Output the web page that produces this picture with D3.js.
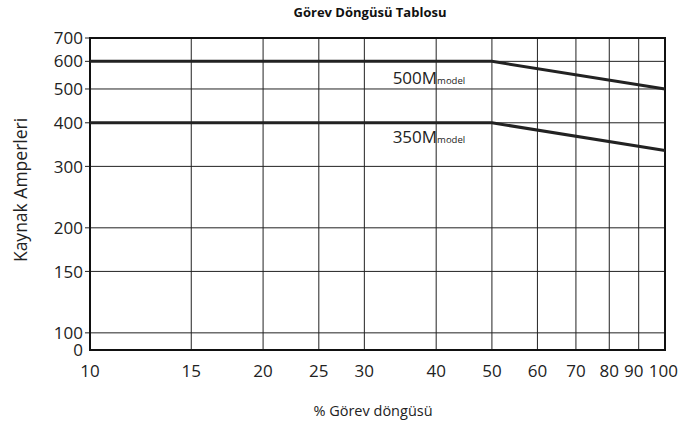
<!DOCTYPE html>
<html>
<head>
<meta charset="utf-8">
<script src="https://cdn.jsdelivr.net/npm/d3@7"></script>
<style>
  body { margin: 0; background: #fff; }
  text { font-family: "Open Sans", "Noto Sans", sans-serif; fill: #222; }
</style>
</head>
<body>
<div id="chart"></div>
<script>
// duty cycle (%) vs welding amps
var dutyCycle = [10, 50, 100];
var amps500 = [600, 600, 500];
var amps350 = [400, 400, 333];

var xTicks = [10, 15, 20, 25, 30, 40, 50, 60, 70, 80, 90, 100];
var yTicks = [0, 100, 150, 200, 300, 400, 500, 600, 700];

var seriesNames = ["500M", "350M"];
var seriesSub = ["model", "model"];
var labelX = [33.6, 33.6];
var labelY = [516, 350];

var title = "Görev Döngüsü Tablosu";
var xTitle = "% Görev döngüsü";
var yTitle = "Kaynak Amperleri";

var W = 678, H = 425;
var margin = {top: 38, right: 13, bottom: 75, left: 90},
    width = W - margin.left - margin.right,
    height = H - margin.top - margin.bottom;

var svg = d3.select("#chart").append("svg")
    .attr("width", W)
    .attr("height", H);

var g = svg.append("g")
    .attr("transform", "translate(" + margin.left + "," + margin.top + ")");

var xScale = d3.scaleLog().domain([10, 100]).range([0, width]);
var yMin = 89.3;
var yLog = d3.scaleLog().domain([yMin, 700]).range([height, 0]);
// "0" sits at the bottom of the log axis
function yScale(v) { return yLog(Math.max(v, yMin)); }

// grid
g.append("g").selectAll("line")
  .data(xTicks).enter()
  .append("line")
  .attr("x1", function(d) { return xScale(d); })
  .attr("x2", function(d) { return xScale(d); })
  .attr("y1", 0)
  .attr("y2", height)
  .style("stroke", "#222")
  .style("stroke-width", 1);

g.append("g").selectAll("line")
  .data(yTicks).enter()
  .append("line")
  .attr("x1", 0)
  .attr("x2", width)
  .attr("y1", function(d) { return yScale(d); })
  .attr("y2", function(d) { return yScale(d); })
  .style("stroke", "#222")
  .style("stroke-width", 1);

// y ticks + labels
g.append("g").selectAll("line")
  .data(yTicks.filter(function(d) { return d > 0; })).enter()
  .append("line")
  .attr("x1", -5).attr("x2", 0)
  .attr("y1", function(d) { return yScale(d); })
  .attr("y2", function(d) { return yScale(d); })
  .style("stroke", "#222");

g.append("g").selectAll("text")
  .data(yTicks).enter()
  .append("text")
  .attr("x", -7)
  .attr("y", function(d) { return yScale(d); })
  .attr("dy", "0.36em")
  .attr("text-anchor", "end")
  .style("font-size", "17px")
  .text(function(d) { return d; });

// last two labels are squeezed together at the right edge
g.append("g").selectAll("text")
  .data(xTicks).enter()
  .append("text")
  .attr("x", function(d) { return xScale(d); })
  .attr("y", height + 27)
  .attr("text-anchor", function(d) { return d === 100 ? "end" : "middle"; })
  .attr("dx", function(d) { return d === 100 ? 13 : (d === 90 ? -5 : 0); })
  .style("font-size", "17px")
  .text(function(d) { return d; });

// frame
g.append("rect")
  .attr("width", width)
  .attr("height", height)
  .style("fill", "none")
  .style("stroke", "#111")
  .style("stroke-width", 2);

// series
var line = d3.line()
  .x(function(d) { return xScale(d[0]); })
  .y(function(d) { return yScale(d[1]); });

[amps500, amps350].forEach(function(s) {
  g.append("path")
    .attr("d", line(d3.zip(dutyCycle, s)))
    .style("fill", "none")
    .style("stroke", "#222")
    .style("stroke-width", 3);
});

// series labels
seriesNames.forEach(function(n, i) {
  var t = g.append("text")
    .attr("x", xScale(labelX[i]))
    .attr("y", yScale(labelY[i]))
    .style("font-size", "17px");
  t.append("tspan").text(n);
  t.append("tspan").style("font-size", "9.5px").text(seriesSub[i]);
});

// titles
svg.append("text")
  .attr("x", 370)
  .attr("y", 17)
  .attr("text-anchor", "middle")
  .style("font-size", "13px")
  .style("font-weight", "bold")
  .style("fill", "#111")
  .text(title);

svg.append("text")
  .attr("x", 373)
  .attr("y", 416)
  .attr("text-anchor", "middle")
  .style("font-size", "14.5px")
  .text(xTitle);

svg.append("text")
  .attr("transform", "translate(27," + (margin.top + 152) + ") rotate(-90)")
  .attr("text-anchor", "middle")
  .style("font-size", "17.5px")
  .text(yTitle);
</script>
</body>
</html>
